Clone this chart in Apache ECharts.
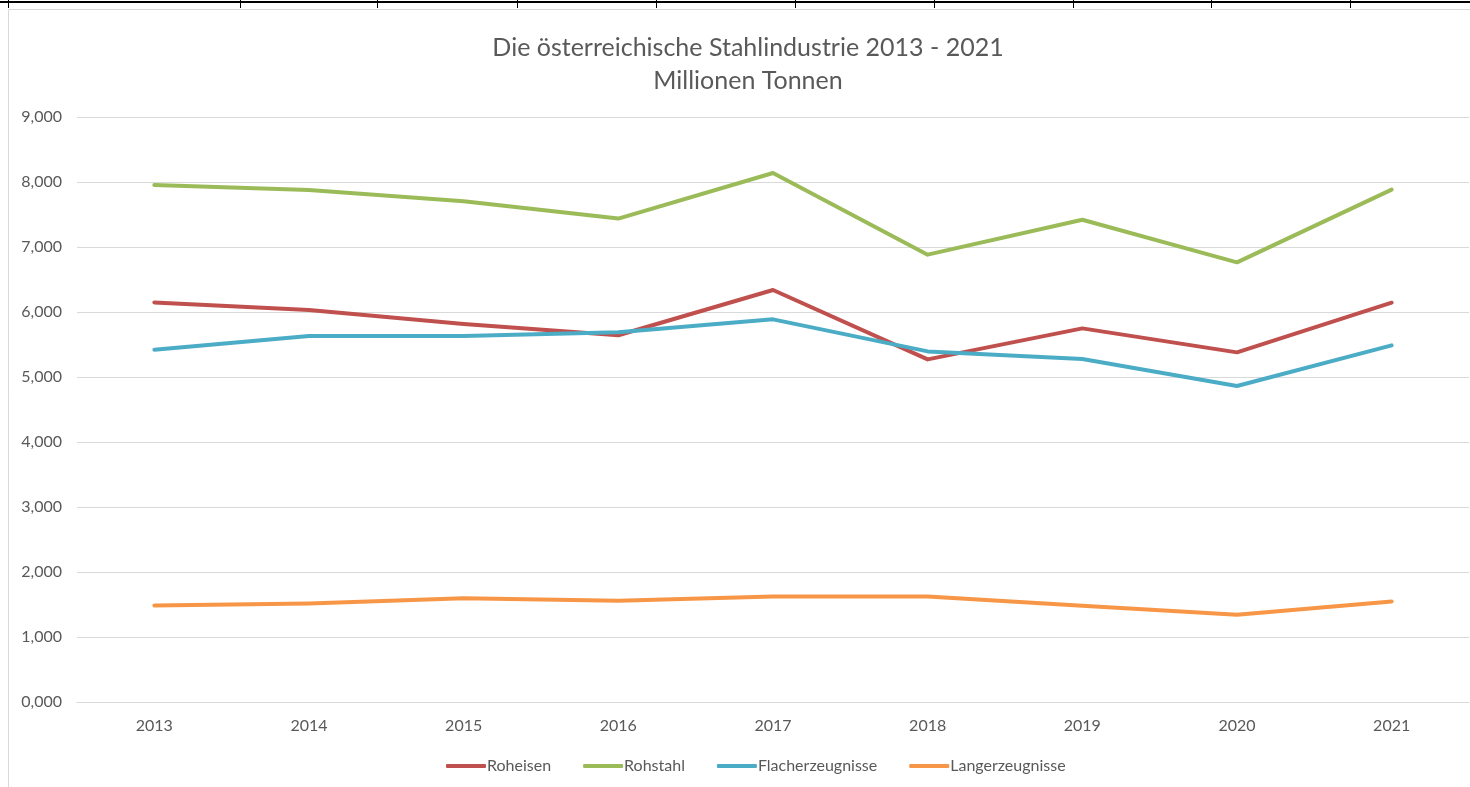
<!DOCTYPE html>
<html>
<head>
<meta charset="utf-8">
<script src="https://cdn.jsdelivr.net/npm/echarts@6/dist/echarts.min.js"></script>
<style>
html,body{margin:0;padding:0;background:#fff;}
#c{width:1470px;height:787px;}
</style>
</head>
<body>
<div id="c"></div>
<script>
var years = ['2013','2014','2015','2016','2017','2018','2019','2020','2021'];
var roheisen = [6.148, 6.031, 5.816, 5.642, 6.338, 5.271, 5.748, 5.379, 6.143];
var rohstahl = [7.954, 7.877, 7.703, 7.437, 8.138, 6.882, 7.420, 6.764, 7.882];
var flacher = [5.421, 5.631, 5.631, 5.688, 5.887, 5.394, 5.276, 4.862, 5.486];
var langer = [1.485, 1.515, 1.597, 1.556, 1.622, 1.622, 1.482, 1.342, 1.546];
var seriesNames = ['Roheisen', 'Rohstahl', 'Flacherzeugnisse', 'Langerzeugnisse'];
var titleText = 'Die österreichische Stahlindustrie 2013 - 2021\nMillionen Tonnen';

var colors = ['#C0504D', '#9BBB59', '#4BACC6', '#F79646'];
var dataSets = [roheisen, rohstahl, flacher, langer];
var cellTicks = [8, 240, 377, 517, 656, 795, 934, 1073, 1211, 1350];
var FONT = 'Lato, "Open Sans", sans-serif';

var chart = echarts.init(document.getElementById('c'), null, {renderer: 'canvas'});

var graphics = [
  {type: 'rect', shape: {x: 8.5, y: 9.5, width: 1470, height: 800}, style: {fill: '#fff', stroke: '#d9d9d9', lineWidth: 1}, z: -10},
  {type: 'rect', shape: {x: 0, y: 1, width: 1470, height: 2}, style: {fill: '#000'}, z: -5}
];
cellTicks.forEach(function (x) {
  graphics.push({type: 'rect', shape: {x: x, y: 0, width: 1, height: 8}, style: {fill: '#000'}, z: -5});
});

chart.setOption({
  backgroundColor: '#fff',
  animation: false,
  color: colors,
  title: {
    text: titleText,
    left: 743,
    textAlign: 'center',
    top: 26,
    textStyle: {fontFamily: FONT, fontSize: 25, fontWeight: 'normal', color: '#595959', lineHeight: 33}
  },
  graphic: graphics,
  legend: {
    bottom: 8,
    left: 441,
    itemWidth: 40,
    itemHeight: 4,
    itemGap: 32,
    icon: 'roundRect',
    textStyle: {fontFamily: FONT, fontSize: 16, color: '#595959', padding: [0, 0, 0, -4]},
    data: seriesNames
  },
  grid: {left: 77, right: 1, top: 117, bottom: 85, containLabel: false},
  xAxis: {
    type: 'category',
    data: years,
    boundaryGap: true,
    axisLine: {show: true, lineStyle: {color: '#d9d9d9', width: 1}},
    axisTick: {show: false},
    axisLabel: {fontFamily: FONT, fontSize: 16, color: '#595959', margin: 16}
  },
  yAxis: {
    type: 'value',
    min: 0,
    max: 9,
    interval: 1,
    axisLine: {show: false},
    axisTick: {show: false},
    splitLine: {lineStyle: {color: '#d9d9d9', width: 1}},
    axisLabel: {
      fontFamily: FONT, fontSize: 16, color: '#595959', margin: 15,
      formatter: function (v) { return v.toFixed(3).replace('.', ','); }
    }
  },
  series: seriesNames.map(function (name, i) {
    return {
      name: name,
      type: 'line',
      data: dataSets[i],
      symbol: 'none',
      lineStyle: {width: 4, color: colors[i], cap: 'round', join: 'round'},
      itemStyle: {color: colors[i]}
    };
  })
});
</script>
</body>
</html>
